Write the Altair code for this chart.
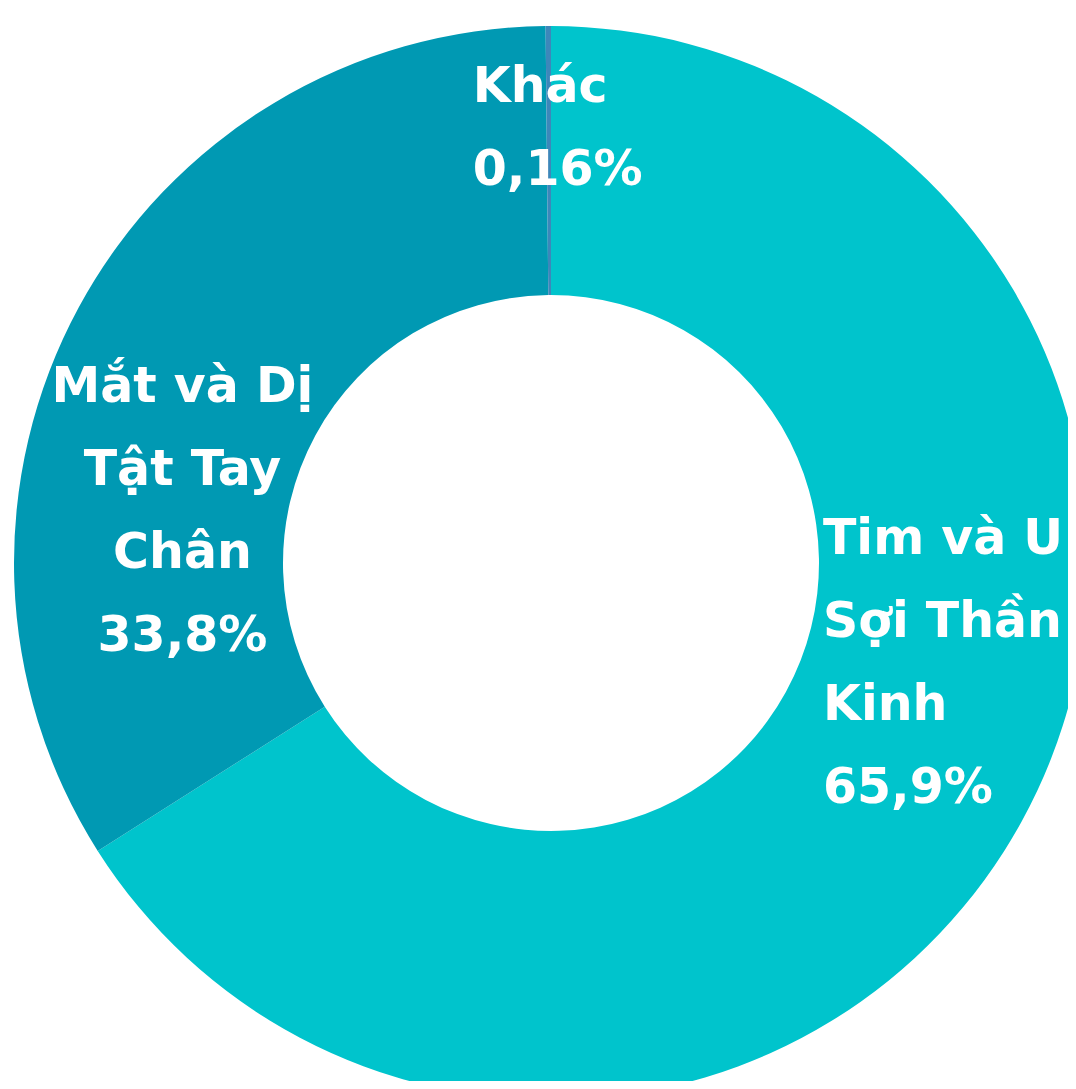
import altair as alt
import pandas as pd

categories = ["Tim và U Sợi Thần Kinh", "Mắt và Dị Tật Tay Chân", "Khác"]
values = [65.9, 33.8, 0.16]
label_lines = [
    ["Tim và U", "Sợi Thần", "Kinh"],
    ["Mắt và Dị", "Tật Tay", "Chân"],
    ["Khác"],
]
colors = ["#00C4CC", "#0099B3", "#3D87BA"]

total = sum(values)
starts = []
acc = 0.0
for v in values:
    starts.append(acc)
    acc += v
mids = [s + v / 2 for s, v in zip(starts, values)]

df = pd.DataFrame({
    "category": categories,
    "value": values,
    "order": list(range(len(categories))),
    "mid": mids,
    "label": ["\n".join(lines + [f"{v}".replace(".", ",") + "%"]) for lines, v in zip(label_lines, values)],
})

W, H = 1060, 1073
CX, CY = 543, 555
R_OUT, R_IN = 537, 268

theta_scale = alt.Scale(domain=[0, total])

arcs = alt.Chart(df).mark_arc(
    radius=R_OUT, radius2=R_IN, x=CX, y=CY, stroke=None
).encode(
    theta=alt.Theta("value:Q", stack=True, scale=theta_scale),
    color=alt.Color("category:N", scale=alt.Scale(domain=categories, range=colors), legend=None),
    order=alt.Order("order:Q"),
)

FONT = "DejaVu Sans"
FS = 49

def label_layer(cat, align, radius, dx, dy):
    return alt.Chart(df).transform_filter(
        alt.datum.category == cat
    ).mark_text(
        x=CX, y=CY, radius=radius, align=align, baseline="alphabetic",
        dx=dx, dy=dy, font=FONT, fontWeight="bold", fontSize=FS,
        lineBreak="\n", lineHeight=83, color="white",
    ).encode(
        theta=alt.Theta("mid:Q", stack=False, scale=theta_scale),
        text="label:N",
    )

t_tim = label_layer(categories[0], "left", 300, 9, -153)
t_mat = label_layer(categories[1], "center", 400, -17, 30)
t_khac = label_layer(categories[2], "left", 461, -76, 0)

chart = alt.layer(arcs, t_tim, t_mat, t_khac).properties(
    width=W, height=H, padding=0, autosize=alt.AutoSizeParams(type="none"),
    background="white",
).configure_view(stroke=None)

chart.save("out.html", embed_options={"renderer": "svg", "actions": False})
